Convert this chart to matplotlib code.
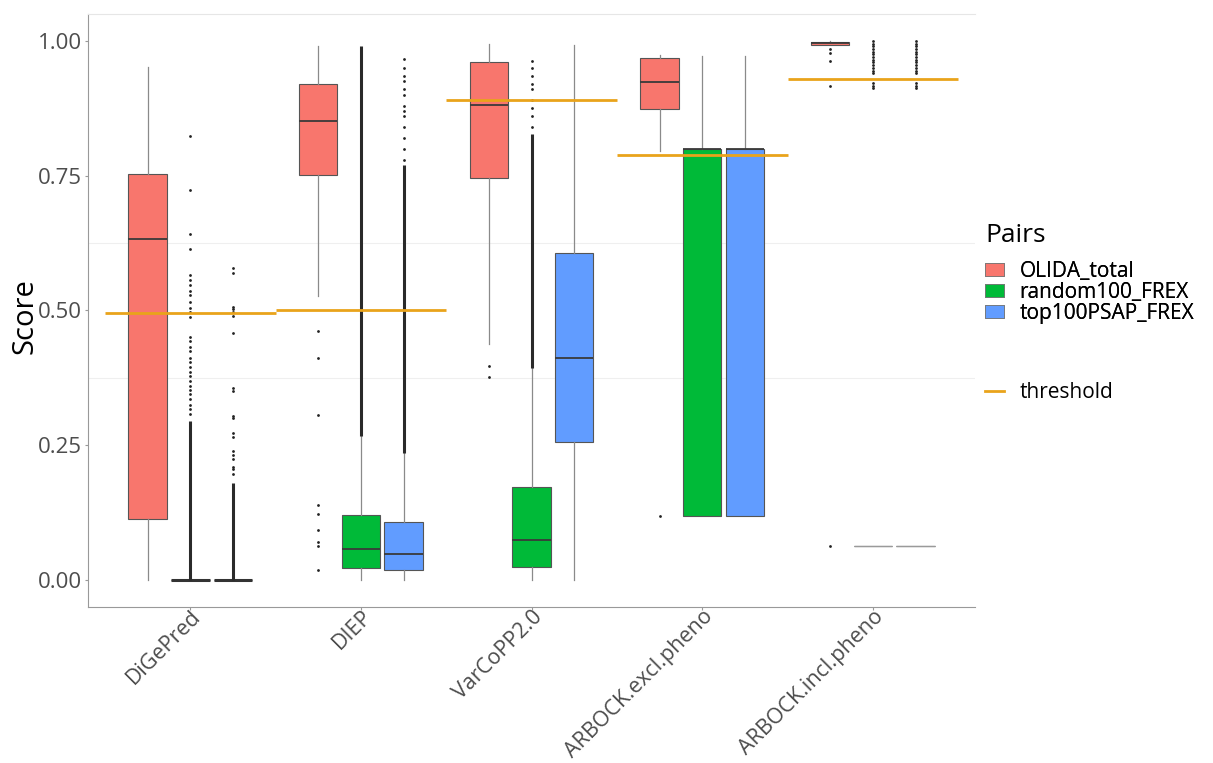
import matplotlib
matplotlib.use("Agg")
import matplotlib.pyplot as plt
from matplotlib.patches import Patch
from matplotlib.lines import Line2D

plt.rcParams['font.family'] = ['Open Sans', 'DejaVu Sans']

tools = ["DiGePred", "DIEP", "VarCoPP2.0", "ARBOCK.excl.pheno", "ARBOCK.incl.pheno"]
pairs = ["OLIDA_total", "random100_FREX", "top100PSAP_FREX"]
pair_colors = ["#F8766D", "#00BA38", "#619CFF"]
thresholds = [0.495, 0.500, 0.890, 0.788, 0.929]

# (whislo, q1, med, q3, whishi) per tool
olida_stats = [
    (0.000, 0.113, 0.632, 0.753, 0.952),
    (0.526, 0.752, 0.852, 0.921, 0.990),
    (0.437, 0.746, 0.882, 0.961, 0.994),
    (0.796, 0.874, 0.924, 0.969, 0.974),
    (0.993, 0.993, 0.996, 0.998, 1.000),
]
random_stats = [
    (0.000, 0.000, 0.000, 0.000, 0.000),
    (0.000, 0.022, 0.057, 0.121, 0.268),
    (0.000, 0.024, 0.075, 0.173, 0.393),
    (0.119, 0.119, 0.800, 0.800, 0.972),
    (0.0625, 0.0625, 0.0625, 0.0625, 0.0625),
]
top_stats = [
    (0.000, 0.000, 0.000, 0.000, 0.000),
    (0.000, 0.018, 0.048, 0.107, 0.235),
    (0.000, 0.256, 0.411, 0.607, 0.993),
    (0.119, 0.119, 0.800, 0.800, 0.972),
    (0.0625, 0.0625, 0.0625, 0.0625, 0.0625),
]

# single outliers
olida_fliers = [
    [],
    [0.461, 0.412, 0.307, 0.140, 0.123, 0.093, 0.070, 0.064, 0.018],
    [0.397, 0.376],
    [0.119],
    [0.985, 0.978, 0.963, 0.917, 0.0625],
]
random_fliers = [
    [0.824, 0.724, 0.641, 0.614, 0.565, 0.556, 0.548, 0.536, 0.528, 0.515,
     0.505, 0.497, 0.488, 0.450, 0.443, 0.432, 0.425, 0.412, 0.404, 0.396,
     0.386, 0.378, 0.370, 0.360, 0.352, 0.345, 0.336, 0.325, 0.317, 0.308],
    [],
    [0.840, 0.860, 0.875, 0.890, 0.910, 0.920, 0.935, 0.950, 0.963],
    [],
    [1.000, 0.995, 0.990, 0.985, 0.980, 0.975, 0.970, 0.965, 0.960, 0.955,
     0.950, 0.945, 0.940, 0.922, 0.917, 0.912],
]
top_fliers = [
    [0.578, 0.570, 0.507, 0.502, 0.497, 0.490, 0.458, 0.357, 0.351, 0.305,
     0.300, 0.272, 0.265, 0.240, 0.232, 0.225, 0.210, 0.205, 0.197],
    [0.780, 0.800, 0.820, 0.840, 0.860, 0.870, 0.880, 0.900, 0.910, 0.925,
     0.935, 0.950, 0.967],
    [],
    [],
    [1.000, 0.995, 0.990, 0.985, 0.980, 0.975, 0.970, 0.965, 0.960, 0.955,
     0.950, 0.945, 0.940, 0.922, 0.917, 0.912],
]

# stretches where outliers overlap into a solid column (lo, hi)
random_runs = [(0.0, 0.295), (0.268, 0.990), (0.393, 0.827), None, None]
top_runs = [(0.0, 0.180), (0.235, 0.770), None, None, None]

all_stats = [olida_stats, random_stats, top_stats]
all_fliers = [olida_fliers, random_fliers, top_fliers]
all_runs = [[None] * 5, random_runs, top_runs]
offsets = [-0.25, 0.0, 0.25]
box_w = 0.225
thr_color = "#E9A31B"

fig = plt.figure(figsize=(12.13, 7.63), dpi=100)
ax = fig.add_axes([0.0725, 0.2045, 0.7315, 0.7772])

for y in (0.375, 0.625):
    ax.axhline(y, color="#EFEFEF", lw=0.8, zorder=0)

for p in range(3):
    stats, positions = [], []
    for t in range(len(tools)):
        lo, q1, med, q3, hi = all_stats[p][t]
        stats.append(dict(whislo=lo, q1=q1, med=med, q3=q3, whishi=hi,
                          fliers=all_fliers[p][t]))
        positions.append(t + 1 + offsets[p])
    bp = ax.bxp(stats, positions=positions, widths=box_w, patch_artist=True,
                showcaps=False, manage_ticks=False,
                boxprops=dict(facecolor=pair_colors[p], edgecolor="#555555", lw=0.8),
                medianprops=dict(color="#3a3a3a", lw=1.3),
                whiskerprops=dict(color="#8a8a8a", lw=0.9),
                flierprops=dict(marker="o", markersize=2, markerfacecolor="#222222",
                                markeredgecolor="none"),
                zorder=2)
    for t in range(len(tools)):
        lo, q1, med, q3, hi = all_stats[p][t]
        if q1 == q3 and med > 0 and p > 0:
            bp['medians'][t].set_color("#9a9a9a")
            bp['medians'][t].set_linewidth(1.0)
        elif q1 == q3 == 0:
            bp['medians'][t].set_linewidth(2.2)
            bp['medians'][t].set_color("#333333")
        run = all_runs[p][t]
        if run is not None:
            ax.vlines(positions[t], run[0], run[1], color="#2a2a2a", lw=2.2, zorder=3)

# per-tool threshold segments
for t, thr in enumerate(thresholds):
    ax.hlines(thr, t + 1 - 0.5, t + 1 + 0.5, color=thr_color, lw=2, zorder=4)

ax.set_xlim(0.4, 5.6)
ax.set_ylim(-0.05, 1.05)
ax.set_xticks(range(1, len(tools) + 1))
ax.set_xticklabels(tools, rotation=45, ha="right", rotation_mode="anchor",
                   fontsize=15.5, color="#4D4D4D")
ax.set_yticks([0, 0.25, 0.5, 0.75, 1.0])
ax.set_yticklabels(["0.00", "0.25", "0.50", "0.75", "1.00"], fontsize=16, color="#4D4D4D")
ax.tick_params(axis="both", length=2.5, color="#999999")
ax.tick_params(axis="y", pad=2)
ax.tick_params(axis="x", pad=-3)
ax.set_ylabel("Score", fontsize=21, va="center")
ax.yaxis.set_label_coords(-0.071, 0.49)

for s in ("left", "bottom"):
    ax.spines[s].set_color("#999999")
ax.spines["top"].set_color("#E6E6E6")
ax.spines["right"].set_visible(False)

# legend
fig.text(0.812, 0.683, "Pairs", fontsize=19, va="baseline", ha="left")
pair_handles = [Patch(facecolor=c, edgecolor="#777777", lw=0.6) for c in pair_colors]
leg = fig.legend(pair_handles, pairs, loc="upper left",
                 bbox_to_anchor=(0.812, 0.658), frameon=False, fontsize=15,
                 handlelength=0.9, handleheight=0.58, handletextpad=0.77,
                 labelspacing=0.0, borderpad=0, borderaxespad=0)
fig.add_artist(leg)
fig.legend([Line2D([0], [0], color=thr_color, lw=2)], ["threshold"],
           loc="upper left", bbox_to_anchor=(0.812, 0.4994), frameon=False,
           fontsize=15, handlelength=0.9, handletextpad=0.77, borderpad=0,
           borderaxespad=0)

fig.savefig("out.png", dpi=100)
